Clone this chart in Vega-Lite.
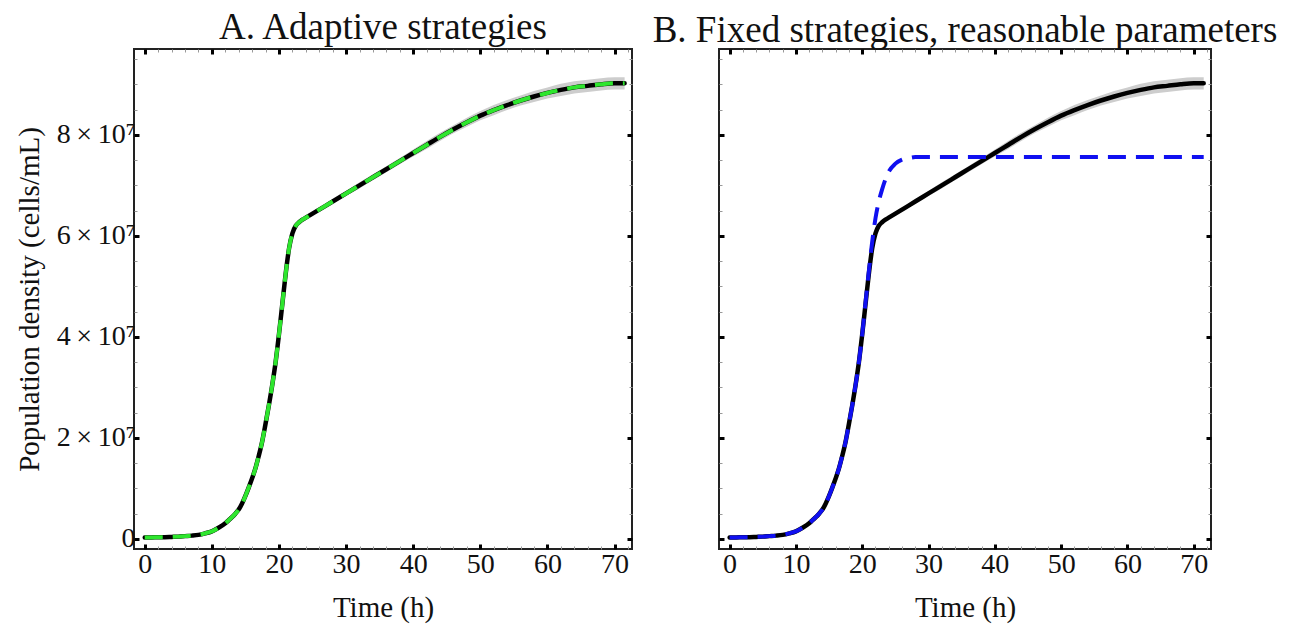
{
  "$schema": "https://vega.github.io/schema/vega-lite/v6.json",
  "background": "white",
  "padding": {"left": 14, "top": 8, "right": 5, "bottom": 5},
  "spacing": 87,
  "bounds": "flush",
  "datasets": {
    "growth": [
      {"t": 0, "m": 0.03e7, "lo": 0.01e7, "hi": 0.05e7, "a": 0.03e7, "b": 0.03e7},
      {"t": 1, "m": 0.03e7, "lo": 0.01e7, "hi": 0.05e7, "a": 0.03e7, "b": 0.03e7},
      {"t": 2, "m": 0.035e7, "lo": 0.015e7, "hi": 0.055e7, "a": 0.035e7, "b": 0.035e7},
      {"t": 3, "m": 0.035e7, "lo": 0.015e7, "hi": 0.055e7, "a": 0.035e7, "b": 0.035e7},
      {"t": 4, "m": 0.04e7, "lo": 0.02e7, "hi": 0.06e7, "a": 0.04e7, "b": 0.04e7},
      {"t": 5, "m": 0.045e7, "lo": 0.025e7, "hi": 0.065e7, "a": 0.045e7, "b": 0.045e7},
      {"t": 6, "m": 0.055e7, "lo": 0.035e7, "hi": 0.075e7, "a": 0.055e7, "b": 0.055e7},
      {"t": 7, "m": 0.065e7, "lo": 0.045e7, "hi": 0.085e7, "a": 0.065e7, "b": 0.065e7},
      {"t": 8, "m": 0.08e7, "lo": 0.06e7, "hi": 0.10e7, "a": 0.08e7, "b": 0.08e7},
      {"t": 9, "m": 0.11e7, "lo": 0.09e7, "hi": 0.13e7, "a": 0.11e7, "b": 0.11e7},
      {"t": 10, "m": 0.15e7, "lo": 0.13e7, "hi": 0.17e7, "a": 0.15e7, "b": 0.15e7},
      {"t": 11, "m": 0.22e7, "lo": 0.20e7, "hi": 0.24e7, "a": 0.22e7, "b": 0.22e7},
      {"t": 12, "m": 0.31e7, "lo": 0.28e7, "hi": 0.34e7, "a": 0.31e7, "b": 0.31e7},
      {"t": 12.5, "m": 0.37e7, "lo": 0.34e7, "hi": 0.40e7, "a": 0.37e7, "b": 0.37e7},
      {"t": 13, "m": 0.43e7, "lo": 0.40e7, "hi": 0.46e7, "a": 0.43e7, "b": 0.43e7},
      {"t": 13.5, "m": 0.50e7, "lo": 0.47e7, "hi": 0.53e7, "a": 0.50e7, "b": 0.50e7},
      {"t": 14, "m": 0.58e7, "lo": 0.55e7, "hi": 0.61e7, "a": 0.58e7, "b": 0.58e7},
      {"t": 14.5, "m": 0.70e7, "lo": 0.67e7, "hi": 0.73e7, "a": 0.70e7, "b": 0.70e7},
      {"t": 15, "m": 0.85e7, "lo": 0.82e7, "hi": 0.88e7, "a": 0.85e7, "b": 0.85e7},
      {"t": 15.5, "m": 1.02e7, "lo": 0.99e7, "hi": 1.05e7, "a": 1.02e7, "b": 1.02e7},
      {"t": 16, "m": 1.20e7, "lo": 1.17e7, "hi": 1.23e7, "a": 1.20e7, "b": 1.20e7},
      {"t": 16.5, "m": 1.40e7, "lo": 1.37e7, "hi": 1.43e7, "a": 1.40e7, "b": 1.40e7},
      {"t": 17, "m": 1.65e7, "lo": 1.62e7, "hi": 1.68e7, "a": 1.65e7, "b": 1.65e7},
      {"t": 17.5, "m": 1.93e7, "lo": 1.90e7, "hi": 1.96e7, "a": 1.93e7, "b": 1.93e7},
      {"t": 18, "m": 2.28e7, "lo": 2.25e7, "hi": 2.31e7, "a": 2.28e7, "b": 2.28e7},
      {"t": 18.5, "m": 2.65e7, "lo": 2.62e7, "hi": 2.68e7, "a": 2.65e7, "b": 2.65e7},
      {"t": 19, "m": 3.05e7, "lo": 3.02e7, "hi": 3.08e7, "a": 3.05e7, "b": 3.05e7},
      {"t": 19.5, "m": 3.50e7, "lo": 3.47e7, "hi": 3.53e7, "a": 3.50e7, "b": 3.50e7},
      {"t": 20, "m": 4.05e7, "lo": 4.02e7, "hi": 4.08e7, "a": 4.05e7, "b": 4.05e7},
      {"t": 20.5, "m": 4.65e7, "lo": 4.61e7, "hi": 4.69e7, "a": 4.65e7, "b": 4.68e7},
      {"t": 21, "m": 5.25e7, "lo": 5.21e7, "hi": 5.29e7, "a": 5.25e7, "b": 5.30e7},
      {"t": 21.5, "m": 5.75e7, "lo": 5.71e7, "hi": 5.79e7, "a": 5.75e7, "b": 5.88e7},
      {"t": 22, "m": 6.05e7, "lo": 6.01e7, "hi": 6.09e7, "a": 6.05e7, "b": 6.35e7},
      {"t": 22.5, "m": 6.20e7, "lo": 6.16e7, "hi": 6.24e7, "a": 6.20e7, "b": 6.68e7},
      {"t": 23, "m": 6.27e7, "lo": 6.23e7, "hi": 6.31e7, "a": 6.27e7, "b": 6.92e7},
      {"t": 23.5, "m": 6.32e7, "lo": 6.28e7, "hi": 6.36e7, "a": 6.32e7, "b": 7.12e7},
      {"t": 24, "m": 6.36e7, "lo": 6.32e7, "hi": 6.40e7, "a": 6.36e7, "b": 7.27e7},
      {"t": 25, "m": 6.44e7, "lo": 6.40e7, "hi": 6.48e7, "a": 6.44e7, "b": 7.43e7},
      {"t": 26, "m": 6.52e7, "lo": 6.48e7, "hi": 6.56e7, "a": 6.52e7, "b": 7.51e7},
      {"t": 27, "m": 6.60e7, "lo": 6.56e7, "hi": 6.64e7, "a": 6.60e7, "b": 7.54e7},
      {"t": 28, "m": 6.68e7, "lo": 6.64e7, "hi": 6.72e7, "a": 6.68e7, "b": 7.56e7},
      {"t": 30, "m": 6.84e7, "lo": 6.79e7, "hi": 6.89e7, "a": 6.84e7, "b": 7.56e7},
      {"t": 32, "m": 7.00e7, "lo": 6.94e7, "hi": 7.06e7, "a": 7.00e7, "b": 7.56e7},
      {"t": 34, "m": 7.16e7, "lo": 7.10e7, "hi": 7.22e7, "a": 7.16e7, "b": 7.56e7},
      {"t": 36, "m": 7.32e7, "lo": 7.26e7, "hi": 7.38e7, "a": 7.32e7, "b": 7.56e7},
      {"t": 38, "m": 7.48e7, "lo": 7.42e7, "hi": 7.54e7, "a": 7.48e7, "b": 7.56e7},
      {"t": 40, "m": 7.64e7, "lo": 7.57e7, "hi": 7.71e7, "a": 7.64e7, "b": 7.56e7},
      {"t": 42, "m": 7.80e7, "lo": 7.72e7, "hi": 7.88e7, "a": 7.80e7, "b": 7.56e7},
      {"t": 44, "m": 7.96e7, "lo": 7.88e7, "hi": 8.04e7, "a": 7.96e7, "b": 7.56e7},
      {"t": 46, "m": 8.11e7, "lo": 8.03e7, "hi": 8.19e7, "a": 8.11e7, "b": 7.56e7},
      {"t": 48, "m": 8.25e7, "lo": 8.16e7, "hi": 8.34e7, "a": 8.25e7, "b": 7.56e7},
      {"t": 50, "m": 8.38e7, "lo": 8.29e7, "hi": 8.47e7, "a": 8.38e7, "b": 7.56e7},
      {"t": 52, "m": 8.49e7, "lo": 8.39e7, "hi": 8.59e7, "a": 8.49e7, "b": 7.56e7},
      {"t": 54, "m": 8.59e7, "lo": 8.49e7, "hi": 8.69e7, "a": 8.59e7, "b": 7.56e7},
      {"t": 56, "m": 8.68e7, "lo": 8.58e7, "hi": 8.78e7, "a": 8.68e7, "b": 7.56e7},
      {"t": 58, "m": 8.76e7, "lo": 8.65e7, "hi": 8.87e7, "a": 8.76e7, "b": 7.56e7},
      {"t": 60, "m": 8.83e7, "lo": 8.72e7, "hi": 8.94e7, "a": 8.83e7, "b": 7.56e7},
      {"t": 62, "m": 8.89e7, "lo": 8.77e7, "hi": 9.01e7, "a": 8.89e7, "b": 7.56e7},
      {"t": 64, "m": 8.94e7, "lo": 8.82e7, "hi": 9.06e7, "a": 8.94e7, "b": 7.56e7},
      {"t": 66, "m": 8.97e7, "lo": 8.85e7, "hi": 9.09e7, "a": 8.97e7, "b": 7.56e7},
      {"t": 68, "m": 9.00e7, "lo": 8.88e7, "hi": 9.12e7, "a": 9.00e7, "b": 7.56e7},
      {"t": 70, "m": 9.02e7, "lo": 8.90e7, "hi": 9.14e7, "a": 9.02e7, "b": 7.56e7},
      {"t": 71.5, "m": 9.02e7, "lo": 8.90e7, "hi": 9.14e7, "a": 9.02e7, "b": 7.56e7}
    ]
  },
  "hconcat": [
    {
      "width": 498,
      "height": 500,
      "title": {"text": "A. Adaptive strategies"},
      "data": {"name": "growth"},
      "layer": [
        {
          "mark": {"type": "area", "color": "#cdcdcd", "opacity": 1, "interpolate": "monotone"},
          "encoding": {
            "x": {"field": "t", "type": "quantitative", "scale": {"domain": [-1.6, 72.6], "nice": false, "zero": false},
              "axis": {"orient": "bottom", "title": "Time (h)", "values": [0,2,4,6,8,10,12,14,16,18,20,22,24,26,28,30,32,34,36,38,40,42,44,46,48,50,52,54,56,58,60,62,64,66,68,70,72],
                "labelExpr": "datum.value % 10 === 0 ? datum.label : ''",
                "tickSize": {"condition": {"test": "datum.value % 10 === 0", "value": -5}, "value": -3},
                "tickWidth": {"condition": {"test": "datum.value % 10 === 0", "value": 3}, "value": 1},
                "tickColor": {"condition": {"test": "datum.value % 10 === 0", "value": "#000000"}, "value": "#999999"},
                "labelPadding": 6, "titlePadding": 13}},
            "y": {"field": "lo", "type": "quantitative", "scale": {"domain": [-2000000, 97000000], "nice": false, "zero": false},
              "axis": {"orient": "left", "title": "Population density (cells/mL)", "values": [0,5000000,10000000,15000000,20000000,25000000,30000000,35000000,40000000,45000000,50000000,55000000,60000000,65000000,70000000,75000000,80000000,85000000,90000000,95000000],
                "labelExpr": "datum.value === 0 ? '0' : (datum.value % 20000000 === 0 ? (datum.value / 10000000) + '\u2009×\u200910⁷' : '')",
                "tickSize": {"condition": {"test": "datum.value % 20000000 === 0", "value": -5}, "value": -3},
                "tickWidth": {"condition": {"test": "datum.value % 20000000 === 0", "value": 3}, "value": 1},
                "tickColor": {"condition": {"test": "datum.value % 20000000 === 0", "value": "#000000"}, "value": "#999999"},
                "labelPadding": 4, "titlePadding": 12}},
            "y2": {"field": "hi"}
          }
        },
        {
          "mark": {"type": "line", "color": "#000000", "strokeWidth": 4.5, "strokeCap": "round", "interpolate": "monotone"},
          "encoding": {
            "x": {"field": "t", "type": "quantitative",
              "axis": {"orient": "top", "title": null, "labels": false, "values": [0,2,4,6,8,10,12,14,16,18,20,22,24,26,28,30,32,34,36,38,40,42,44,46,48,50,52,54,56,58,60,62,64,66,68,70,72],
                "tickSize": {"condition": {"test": "datum.value % 10 === 0", "value": -5}, "value": -3},
                "tickWidth": {"condition": {"test": "datum.value % 10 === 0", "value": 3}, "value": 1},
                "tickColor": {"condition": {"test": "datum.value % 10 === 0", "value": "#000000"}, "value": "#999999"},
                "minExtent": 0, "maxExtent": 0}},
            "y": {"field": "m", "type": "quantitative",
              "axis": {"orient": "right", "title": null, "labels": false, "values": [0,5000000,10000000,15000000,20000000,25000000,30000000,35000000,40000000,45000000,50000000,55000000,60000000,65000000,70000000,75000000,80000000,85000000,90000000,95000000],
                "tickSize": {"condition": {"test": "datum.value % 20000000 === 0", "value": -5}, "value": -3},
                "tickWidth": {"condition": {"test": "datum.value % 20000000 === 0", "value": 3}, "value": 1},
                "tickColor": {"condition": {"test": "datum.value % 20000000 === 0", "value": "#000000"}, "value": "#999999"},
                "minExtent": 0, "maxExtent": 0}}
          }
        },
        {
          "mark": {"type": "line", "color": "#2ee62e", "strokeWidth": 4, "strokeDash": [18, 10], "interpolate": "monotone"},
          "encoding": {
            "x": {"field": "t", "type": "quantitative", "axis": null},
            "y": {"field": "a", "type": "quantitative", "axis": null}
          }
        }
      ],
      "resolve": {"axis": {"x": "independent", "y": "independent"}}
    },
    {
      "width": 492,
      "height": 500,
      "title": {"text": "B. Fixed strategies, reasonable parameters"},
      "data": {"name": "growth"},
      "layer": [
        {
          "mark": {"type": "area", "color": "#cdcdcd", "opacity": 1, "interpolate": "monotone"},
          "encoding": {
            "x": {"field": "t", "type": "quantitative", "scale": {"domain": [-1.6, 72.6], "nice": false, "zero": false},
              "axis": {"orient": "bottom", "title": "Time (h)", "values": [0,2,4,6,8,10,12,14,16,18,20,22,24,26,28,30,32,34,36,38,40,42,44,46,48,50,52,54,56,58,60,62,64,66,68,70,72],
                "labelExpr": "datum.value % 10 === 0 ? datum.label : ''",
                "tickSize": {"condition": {"test": "datum.value % 10 === 0", "value": -5}, "value": -3},
                "tickWidth": {"condition": {"test": "datum.value % 10 === 0", "value": 3}, "value": 1},
                "tickColor": {"condition": {"test": "datum.value % 10 === 0", "value": "#000000"}, "value": "#999999"},
                "labelPadding": 6, "titlePadding": 13}},
            "y": {"field": "lo", "type": "quantitative", "scale": {"domain": [-2000000, 97000000], "nice": false, "zero": false},
              "axis": {"orient": "left", "title": null, "labels": false, "values": [0,5000000,10000000,15000000,20000000,25000000,30000000,35000000,40000000,45000000,50000000,55000000,60000000,65000000,70000000,75000000,80000000,85000000,90000000,95000000],
                "tickSize": {"condition": {"test": "datum.value % 20000000 === 0", "value": -5}, "value": -3},
                "tickWidth": {"condition": {"test": "datum.value % 20000000 === 0", "value": 3}, "value": 1},
                "tickColor": {"condition": {"test": "datum.value % 20000000 === 0", "value": "#000000"}, "value": "#999999"},
                "minExtent": 0, "maxExtent": 0}},
            "y2": {"field": "hi"}
          }
        },
        {
          "mark": {"type": "line", "color": "#000000", "strokeWidth": 4.5, "strokeCap": "round", "interpolate": "monotone"},
          "encoding": {
            "x": {"field": "t", "type": "quantitative",
              "axis": {"orient": "top", "title": null, "labels": false, "values": [0,2,4,6,8,10,12,14,16,18,20,22,24,26,28,30,32,34,36,38,40,42,44,46,48,50,52,54,56,58,60,62,64,66,68,70,72],
                "tickSize": {"condition": {"test": "datum.value % 10 === 0", "value": -5}, "value": -3},
                "tickWidth": {"condition": {"test": "datum.value % 10 === 0", "value": 3}, "value": 1},
                "tickColor": {"condition": {"test": "datum.value % 10 === 0", "value": "#000000"}, "value": "#999999"},
                "minExtent": 0, "maxExtent": 0}},
            "y": {"field": "m", "type": "quantitative",
              "axis": {"orient": "right", "title": null, "labels": false, "values": [0,5000000,10000000,15000000,20000000,25000000,30000000,35000000,40000000,45000000,50000000,55000000,60000000,65000000,70000000,75000000,80000000,85000000,90000000,95000000],
                "tickSize": {"condition": {"test": "datum.value % 20000000 === 0", "value": -5}, "value": -3},
                "tickWidth": {"condition": {"test": "datum.value % 20000000 === 0", "value": 3}, "value": 1},
                "tickColor": {"condition": {"test": "datum.value % 20000000 === 0", "value": "#000000"}, "value": "#999999"},
                "minExtent": 0, "maxExtent": 0}}
          }
        },
        {
          "mark": {"type": "line", "color": "#1010f0", "strokeWidth": 4, "strokeDash": [18, 10], "interpolate": "monotone"},
          "encoding": {
            "x": {"field": "t", "type": "quantitative", "axis": null},
            "y": {"field": "b", "type": "quantitative", "axis": null}
          }
        }
      ],
      "resolve": {"axis": {"x": "independent", "y": "independent"}}
    }
  ],
  "config": {
    "view": {"stroke": "#222222", "strokeWidth": 2},
    "title": {"font": "Liberation Serif", "fontSize": 37, "fontWeight": "normal", "color": "#111111", "anchor": "middle", "offset": -2},
    "axis": {
      "domain": false, "grid": false,
      "labelFont": "Liberation Serif", "labelFontSize": 28, "labelColor": "#111111",
      "labelFlush": false, "labelOverlap": false, "labelBound": false,
      "titleFont": "Liberation Serif", "titleFontSize": 29, "titleFontWeight": "normal", "titleColor": "#111111"
    }
  }
}
